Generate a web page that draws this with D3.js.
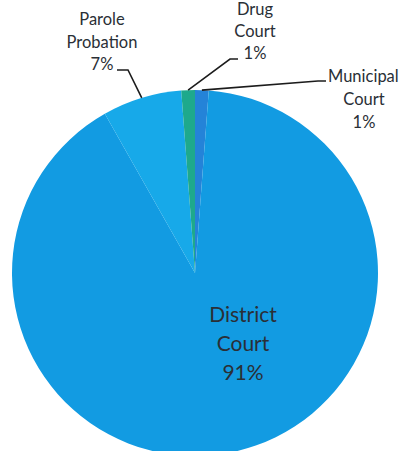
<!DOCTYPE html>
<html>
<head>
<meta charset="utf-8">
<script src="https://cdn.jsdelivr.net/npm/d3@7"></script>
<style>
  body { margin: 0; background: #fff; }
  text { font-family: Lato, "Open Sans", sans-serif; fill: #2a2f36; }
  .leader { fill: none; stroke: #1c1c1c; stroke-width: 1.6; }
</style>
</head>
<body>
<svg id="chart" width="401" height="451"></svg>
<script>
// clockwise from 12 o'clock
const categories = ['Municipal Court', 'District Court', 'Parole Probation', 'Drug Court'];
const shares = [1.2, 90.6, 7.0, 1.2];
const pctLabels = ['1%', '91%', '7%', '1%'];
const colors = ['#2483d8', '#129be2', '#17a9e9', '#1ea98c'];

const CX = 195;
const CY = 273;
const RADIUS = 183;

const svg = d3.select('#chart');
const g = svg.append('g').attr('transform', `translate(${CX},${CY})`);

const pie = d3.pie().sort(null).value((d) => d.value);
const arcs = pie(categories.map((c, i) => ({ name: c, value: shares[i], pct: pctLabels[i], color: colors[i] })));

const arc = d3.arc().innerRadius(0).outerRadius(RADIUS);

g.selectAll('path.slice')
  .data(arcs)
  .enter()
    .append('path')
    .classed('slice', true)
    .attr('d', arc)
    .attr('fill', (d) => d.data.color);

// edge point at the middle angle of a slice
const edge = (d) => {
  const a = (d.startAngle + d.endAngle) / 2;
  return [RADIUS * Math.sin(a), -RADIUS * Math.cos(a)];
};

// label layout: lines, leader bends
const labelSpec = {
  'Municipal Court': { x: 364, y: 82, lines: ['Municipal', 'Court'], size: 16.5, gap: 23,
    bend: [[318, 81], [326, 81]], firstX: 328 },
  'Parole Probation': { x: 102, y: 25, lines: ['Parole', 'Probation'], size: 16.5, gap: 22.5,
    bend: [[128, 70], [117, 70]] },
  'Drug Court': { x: 255, y: 15, lines: ['Drug', 'Court'], size: 16.5, gap: 22,
    bend: [[230, 59], [238, 59]] },
  'District Court': { x: 243, y: 322, lines: ['District', 'Court'], size: 21, gap: 29 },
};

arcs.forEach((d) => {
  const spec = labelSpec[d.data.name];
  const rows = spec.lines.concat([d.data.pct]);
  rows.forEach((t, i) => {
    const isFirstMunicipal = spec.firstX && i === 0;
    svg.append('text')
      .attr('x', isFirstMunicipal ? spec.firstX : spec.x)
      .attr('y', spec.y + i * spec.gap)
      .attr('text-anchor', isFirstMunicipal ? 'start' : 'middle')
      .attr('font-size', spec.size)
      .text(t);
  });
  if (spec.bend) {
    const [ex, ey] = edge(d);
    const pts = [[CX + ex, CY + ey]].concat(spec.bend);
    svg.append('path')
      .classed('leader', true)
      .attr('d', d3.line()(pts));
  }
});
</script>
</body>
</html>
